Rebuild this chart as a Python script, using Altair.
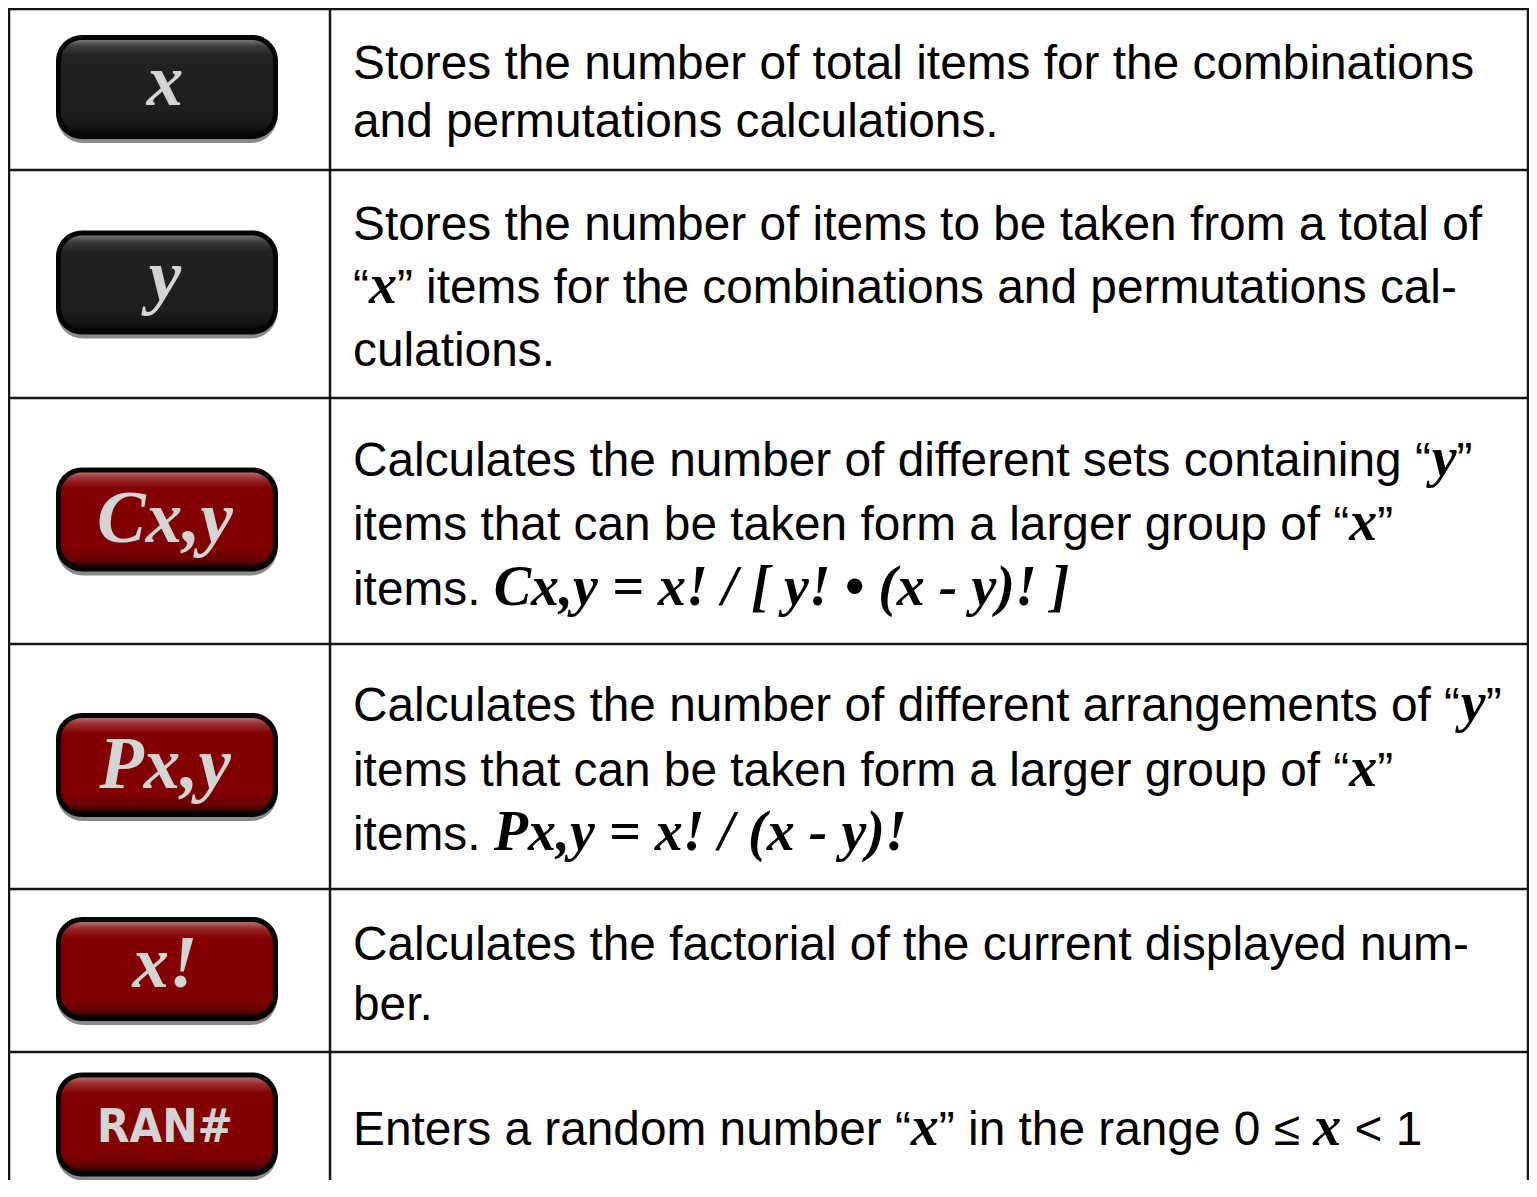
import altair as alt
import pandas as pd

# ---------------- data ----------------
key_labels = ["x", "y", "Cx,y", "Px,y", "x!", "RAN#"]
key_kinds = ["memory", "memory", "function", "function", "function", "function"]

# *...* marks the bold-italic serif (math) parts
desc_row1 = ["Stores the number of total items for the combinations",
             "and permutations calculations."]
desc_row2 = ["Stores the number of items to be taken from a total of",
             "“*x*” items for the combinations and permutations cal-",
             "culations."]
desc_row3 = ["Calculates the number of different sets containing “*y*”",
             "items that can be taken form a larger group of “*x*”",
             "items. *Cx,y = x! / [ y! • (x - y)! ]*"]
desc_row4 = ["Calculates the number of different arrangements of “*y*”",
             "items that can be taken form a larger group of “*x*”",
             "items. *Px,y = x! / (x - y)!*"]
desc_row5 = ["Calculates the factorial of the current displayed num-",
             "ber."]
desc_row6 = ["Enters a random number “*x*” in the range 0 ≤ *x* < 1"]
descriptions = [desc_row1, desc_row2, desc_row3, desc_row4, desc_row5, desc_row6]

# ---------------- font metrics (advance widths per 1000 em) ----------------
SANS_W = {' ': 278, '!': 278, '#': 556, '(': 333, ')': 333, ',': 278, '-': 333, '.': 278,
          '/': 278, '0': 556, '1': 556, '<': 584, '=': 584,
          'A': 667, 'B': 667, 'C': 722, 'D': 722, 'E': 667, 'F': 611, 'G': 778, 'H': 722,
          'I': 278, 'J': 500, 'K': 667, 'L': 556, 'M': 833, 'N': 722, 'O': 778, 'P': 667,
          'Q': 778, 'R': 722, 'S': 667, 'T': 611, 'U': 722, 'V': 667, 'W': 944, 'X': 667,
          'Y': 667, 'Z': 611,
          'a': 556, 'b': 556, 'c': 500, 'd': 556, 'e': 556, 'f': 278, 'g': 556, 'h': 556,
          'i': 222, 'j': 222, 'k': 500, 'l': 222, 'm': 833, 'n': 556, 'o': 556, 'p': 556,
          'q': 556, 'r': 333, 's': 500, 't': 278, 'u': 556, 'v': 500, 'w': 722, 'x': 500,
          'y': 500, 'z': 500, '“': 333, '”': 333, '≤': 549, '•': 350}
SERIF_BI_W = {' ': 250, '!': 389, '(': 333, ')': 333, ',': 250, '-': 333, '/': 278,
              '=': 570, '[': 333, ']': 333, 'C': 667, 'P': 611, 'x': 500, 'y': 444, '•': 350}

# ---------------- layout ----------------
W, H = 1521, 1172           # svg size; page offset of 8px
ORIGIN = 8
row_edges = [7, 170, 398, 644, 889, 1052, 1200]
line_gap = [58, 63, 64.5, 64.5, 60, 60]
TEXT_X = 353
SANS_SIZE = 47.8
SERIF_SIZE = 56
BTN_X0, BTN_X1, BTN_H = 56, 278, 104
KEY_SERIF_SIZE = 73
KEY_SANS_SIZE = 47


def text_width(s, face):
    table = SANS_W if face == "sans" else SERIF_BI_W
    size = SANS_SIZE if face == "sans" else SERIF_SIZE
    default = 556 if face == "sans" else 500
    return sum(table.get(ch, default) for ch in s) * size / 1000.0


seg_rows = []
for r, lines in enumerate(descriptions):
    top, bot = row_edges[r], row_edges[r + 1]
    center = (top + bot) / 2
    n = len(lines)
    for i, line in enumerate(lines):
        base = center + 19 + (i - (n - 1) / 2) * line_gap[r]
        cursor = TEXT_X
        for k, part in enumerate(line.split("*")):
            if part == "":
                continue
            face = "serif" if k % 2 == 1 else "sans"
            stripped = part.lstrip(" ")
            lead = text_width(part[: len(part) - len(stripped)], face)
            seg_rows.append({"x": cursor + lead, "y": base, "text": stripped.rstrip(" "),
                             "face": face})
            cursor += text_width(part, face)
segs = pd.DataFrame(seg_rows)

# table grid lines
grid_rows = []
for e in row_edges[:-1]:
    grid_rows.append({"x": ORIGIN, "x2": 1528, "y": max(e, ORIGIN + 1), "y2": max(e, ORIGIN + 1)})
for vx in [ORIGIN + 1, 330, 1528]:
    grid_rows.append({"x": vx, "x2": vx, "y": ORIGIN, "y2": row_edges[-1]})
grid = pd.DataFrame(grid_rows)

# buttons
btn_rows = []
for r, (lab, kind) in enumerate(zip(key_labels, key_kinds)):
    c = (row_edges[r] + row_edges[r + 1]) / 2 - 1.5
    is_caps = lab == lab.upper()
    has_cap = any(ch.isupper() for ch in lab)
    if is_caps:
        ly = c + 0.37 * KEY_SANS_SIZE
    elif has_cap:
        ly = c + 0.31 * KEY_SERIF_SIZE
    else:
        ly = c + 0.24 * KEY_SERIF_SIZE
    btn_rows.append({
        "label": lab, "kind": kind, "face": "sans" if is_caps else "serif",
        "sx0": BTN_X0 + 1, "sx1": BTN_X1 - 1, "sy0": c - BTN_H / 2 + 4, "sy1": c + BTN_H / 2 + 4,
        "bx0": BTN_X0, "bx1": BTN_X1, "by0": c - BTN_H / 2, "by1": c + BTN_H / 2,
        "ix0": BTN_X0 + 5, "ix1": BTN_X1 - 5, "iy0": c - BTN_H / 2 + 5, "iy1": c + BTN_H / 2 - 6,
        "cx": (BTN_X0 + BTN_X1) / 2 - 2, "ly": ly,
    })
btns = pd.DataFrame(btn_rows)

xs = alt.Scale(domain=[ORIGIN, ORIGIN + W], nice=False, zero=False)
ys = alt.Scale(domain=[ORIGIN, ORIGIN + H], nice=False, zero=False, reverse=True)


def X(f):
    return alt.X(f, type="quantitative", scale=xs, axis=None)


def Y(f):
    return alt.Y(f, type="quantitative", scale=ys, axis=None)


red_grad = alt.Gradient(gradient="linear", x1=0, x2=0, y1=0, y2=1, stops=[
    alt.GradientStop(color="#b86a6a", offset=0.0),
    alt.GradientStop(color="#9a2c2c", offset=0.07),
    alt.GradientStop(color="#840000", offset=0.17),
    alt.GradientStop(color="#800000", offset=0.8),
    alt.GradientStop(color="#6a0000", offset=0.93),
    alt.GradientStop(color="#3c0000", offset=1.0)])
black_grad = alt.Gradient(gradient="linear", x1=0, x2=0, y1=0, y2=1, stops=[
    alt.GradientStop(color="#767676", offset=0.0),
    alt.GradientStop(color="#3c3c3c", offset=0.07),
    alt.GradientStop(color="#222222", offset=0.17),
    alt.GradientStop(color="#1e1e1e", offset=0.8),
    alt.GradientStop(color="#161616", offset=0.93),
    alt.GradientStop(color="#080808", offset=1.0)])

bbase = alt.Chart(btns)
shadow = bbase.mark_rect(cornerRadius=26, fill="#8a8a8a").encode(
    x=X("sx0"), x2="sx1", y=Y("sy0"), y2="sy1")
border = bbase.mark_rect(cornerRadius=26, fill="#050505").encode(
    x=X("bx0"), x2="bx1", y=Y("by0"), y2="by1")
inner_red = bbase.transform_filter(alt.datum.kind == "function").mark_rect(
    cornerRadius=21, fill=red_grad).encode(x=X("ix0"), x2="ix1", y=Y("iy0"), y2="iy1")
inner_black = bbase.transform_filter(alt.datum.kind == "memory").mark_rect(
    cornerRadius=21, fill=black_grad).encode(x=X("ix0"), x2="ix1", y=Y("iy0"), y2="iy1")
key_serif = bbase.transform_filter(alt.datum.face == "serif").mark_text(
    font="Liberation Serif", fontStyle="italic", fontWeight="bold", fontSize=KEY_SERIF_SIZE,
    color="#d4d4d4", align="center", baseline="alphabetic").encode(
    x=X("cx"), y=Y("ly"), text="label:N")
key_sans = bbase.transform_filter(alt.datum.face == "sans").mark_text(
    font="DejaVu Sans Condensed, Liberation Sans Narrow, sans-serif", fontWeight="bold",
    fontSize=KEY_SANS_SIZE, color="#d4d4d4", align="center", baseline="alphabetic").encode(
    x=X("cx"), y=Y("ly"), text="label:N")

lines = alt.Chart(grid).mark_rule(color="#151515", strokeWidth=2.5).encode(
    x=X("x"), x2="x2", y=Y("y"), y2="y2")

sbase = alt.Chart(segs)
sans_text = sbase.transform_filter(alt.datum.face == "sans").mark_text(
    font="Liberation Sans", fontSize=SANS_SIZE, color="#000000", align="left",
    baseline="alphabetic").encode(x=X("x"), y=Y("y"), text="text:N")
serif_text = sbase.transform_filter(alt.datum.face == "serif").mark_text(
    font="Liberation Serif", fontStyle="italic", fontWeight="bold", fontSize=SERIF_SIZE,
    color="#000000", align="left", baseline="alphabetic").encode(
    x=X("x"), y=Y("y"), text="text:N")

chart = alt.layer(lines, shadow, border, inner_red, inner_black, key_serif, key_sans,
                  sans_text, serif_text).properties(
    width=W, height=H, padding=0, autosize=alt.AutoSizeParams(type="none"),
    background="white").configure_view(strokeWidth=0)

chart.save("out.html", embed_options={"renderer": "svg", "actions": False})
